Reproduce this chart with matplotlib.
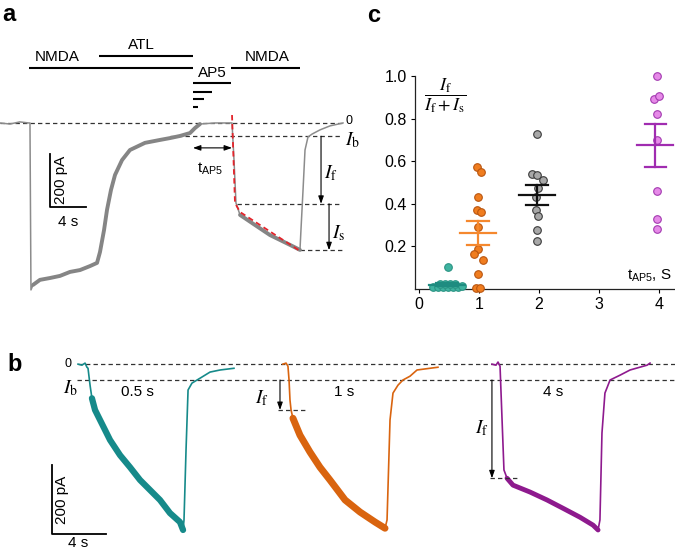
import matplotlib
matplotlib.use('Agg')
import matplotlib.pyplot as plt

plt.rcParams['font.family'] = ['Liberation Sans', 'DejaVu Sans']
plt.rcParams['mathtext.fontset'] = 'custom'
plt.rcParams['mathtext.rm'] = 'Liberation Sans'
plt.rcParams['mathtext.it'] = 'Liberation Sans:italic'

# ---- panel a: whole-cell trace (time in s, current in pA) ----
a_t = [0, 1.1, 2.2, 3.2, 3.33, 3.44, 3.67, 4.44, 5.56, 6.67, 7.78, 8.89, 10.0, 10.78, 11.11,
       11.56, 11.89, 12.33, 12.78, 13.56, 14.44, 16.11, 17.78, 18.89, 20.0, 21.11, 21.67, 22.22,
       23.89, 25.78, 26.0, 26.22, 26.67, 28.33, 30.0, 32.22, 33.33, 33.44, 33.67, 33.89, 34.22,
       34.67, 35.56, 36.67, 38.11]
a_i = [0, -4, 4, 0, 0, -630, -611, -592, -585, -577, -562, -555, -540, -528, -487,
       -404, -328, -253, -196, -140, -102, -75, -64, -57, -49, -38, -19, -4,
       0, 0, -140, -302, -347, -385, -423, -460, -479, -404, -253, -102, -53,
       -42, -26, -11, 0]
a_fit_t = [25.78, 26.11, 26.67, 28.89, 31.11, 33.33]
a_fit_i = [30, -302, -336, -385, -434, -483]
a_levels = [0, -50, -305, -480]          # 0, Ib, If, Is
a_level_start = [0, 18.9, 26.3, 33.3]

# ---- panel b: three traces ----
b_teal_t = [5.78, 6.07, 6.30, 6.44, 6.52, 6.67, 6.81, 7.04, 7.41, 8.15, 8.89, 9.63, 10.37,
            11.11, 11.85, 12.59, 13.33, 13.56, 13.63, 13.78, 13.93, 14.22, 14.81, 15.56,
            16.30, 17.33]
b_teal_i = [0, -3, 3, -9, -12, -61, -99, -133, -162, -220, -264, -299, -336,
            -365, -394, -432, -458, -481, -452, -249, -75, -55, -41, -23, -17, -12]
b_orange_t = [20.96, 21.19, 21.33, 21.41, 21.48, 21.56, 21.70, 22.22, 22.96, 23.70, 24.44,
              25.56, 26.67, 27.78, 28.52, 28.67, 28.89, 29.11, 29.48, 29.85, 30.37, 30.89,
              31.85, 32.44]
b_orange_i = [0, 3, -6, -46, -104, -133, -157, -206, -255, -299, -336,
              -394, -429, -458, -476, -452, -162, -84, -61, -46, -35, -17, -12, -9]
b_purple_t = [36.44, 36.74, 36.89, 37.04, 37.19, 37.33, 37.56, 38.0, 39.26, 40.52, 41.70,
              42.96, 43.93, 44.30, 44.44, 44.59, 44.81, 45.19, 45.93, 46.67, 47.93, 48.15]
b_purple_i = [0, -3, 6, -6, -162, -307, -331, -351, -371, -394, -418,
              -444, -467, -481, -452, -200, -84, -46, -32, -17, -3, 3]
b_ib = -46
b_if_orange = -133
b_if_purple = -331

# ---- panel c: If/(If+Is) vs tAP5 ----
teal_x = [0.24, 0.32, 0.40, 0.49, 0.57, 0.65, 0.35, 0.43, 0.52, 0.60, 0.71, 0.49]
teal_y = [0.01, 0.01, 0.01, 0.01, 0.01, 0.01, 0.022, 0.025, 0.025, 0.022, 0.015, 0.105]
orange_x = [0.96, 1.04, 0.99, 0.96, 1.03, 0.99, 0.99, 0.92, 1.06, 0.99, 0.95, 1.02]
orange_y = [0.574, 0.55, 0.43, 0.373, 0.362, 0.29, 0.19, 0.163, 0.135, 0.072, 0.005, 0.005]
gray_x = [1.97, 1.88, 1.97, 2.06, 1.99, 1.95, 1.95, 1.99, 1.97, 1.97]
gray_y = [0.73, 0.542, 0.534, 0.51, 0.472, 0.433, 0.373, 0.342, 0.276, 0.226]
purple_x = [3.96, 3.92, 4.0, 3.96, 3.96, 3.96, 3.96, 3.96]
purple_y = [1.0, 0.892, 0.908, 0.82, 0.70, 0.46, 0.33, 0.282]
group_center = [0.47, 0.98, 1.97, 3.94]
group_mean = [0.02, 0.263, 0.443, 0.675]
group_sem = [0.008, 0.058, 0.047, 0.1]

W, H = 675, 551
fig = plt.figure(figsize=(W / 100, H / 100), dpi=100)
dash = (0, (3.5, 2.5))
arrow = dict(arrowstyle='-|>,head_length=0.45,head_width=0.16', color='k', lw=0.8,
             shrinkA=0, shrinkB=0)
thick = dict(solid_joinstyle='round', solid_capstyle='round')

# ================= panel a =================
axa = fig.add_axes([0, 1 - 300 / H, 360 / W, 300 / H])
axa.set_xlim(0, 40)
axa.set_ylim(-668, 464)
axa.axis('off')

for lev, start in zip(a_levels, a_level_start):
    axa.plot([start, 38.0], [lev, lev], color='#333333', lw=0.9, ls=dash)
axa.plot(a_t, a_i, color='#8c8c8c', lw=1.1)
axa.plot(a_t[6:28], a_i[6:28], color='#858585', lw=2.8, **thick)
axa.plot(a_t[32:37], a_i[32:37], color='#858585', lw=2.8, **thick)
axa.plot(a_fit_t, a_fit_i, color='#e3242b', lw=1.3, ls=(0, (3, 2)))

axa.annotate('', xy=(35.67, a_levels[2]), xytext=(35.67, a_levels[1]), arrowprops=arrow)
axa.annotate('', xy=(36.56, a_levels[3]), xytext=(36.56, a_levels[2]), arrowprops=arrow)
axa.annotate('', xy=(21.44, -94), xytext=(25.78, -94),
             arrowprops=dict(arrow, arrowstyle='<|-|>,head_length=0.45,head_width=0.16'))

axa.text(38.4, 6, '0', fontsize=9, ha='left', va='center')
axa.text(38.3, -64, r'$I_\mathrm{b}$', math_fontfamily='stix', fontsize=14, ha='left', va='center')
axa.text(36.8, -190, r'$I_\mathrm{f}$', math_fontfamily='stix', fontsize=14, ha='center', va='center')
axa.text(37.6, -415, r'$I_\mathrm{s}$', math_fontfamily='stix', fontsize=14, ha='center', va='center')
axa.text(23.3, -172, r't$_{\mathregular{AP5}}$', fontsize=11, ha='center', va='center')

# scale bar
axa.plot([5.56, 5.56, 9.56], [-117, -317, -317], color='k', lw=1.3)
axa.text(6.8, -215, '200 pA', rotation=90, fontsize=11, ha='center', va='center')
axa.text(7.6, -372, '4 s', fontsize=11, ha='center', va='center')

# drug application bars
bars = [(3.22, 21.44, 208), (11.0, 21.44, 253), (21.44, 25.67, 151), (25.67, 33.33, 208),
        (21.44, 23.56, 117), (21.44, 22.67, 91), (21.44, 22.0, 60)]
for x0, x1, y in bars:
    axa.plot([x0, x1], [y, y], color='k', lw=1.5, solid_capstyle='butt')
axa.text(6.39, 249, 'NMDA', fontsize=11, ha='center', va='center')
axa.text(15.74, 294, 'ATL', fontsize=11, ha='center', va='center')
axa.text(23.56, 189, 'AP5', fontsize=11, ha='center', va='center')
axa.text(29.72, 249, 'NMDA', fontsize=11, ha='center', va='center')

# ================= panel b =================
axb = fig.add_axes([0, 0, 1, 211 / H])
axb.set_xlim(0, 50)
axb.set_ylim(-542, 70)
axb.axis('off')

axb.plot([5.78, 50], [0, 0], color='#333333', lw=0.9, ls=dash)
axb.plot([5.70, 50], [b_ib, b_ib], color='#333333', lw=0.9, ls=dash)

teal, orange, purple = '#168a8a', '#d9640f', '#8e1a8e'
axb.plot(b_teal_t, b_teal_i, color=teal, lw=1.2)
axb.plot(b_teal_t[6:18], b_teal_i[6:18], color=teal, lw=4.5, **thick)
axb.plot(b_orange_t, b_orange_i, color=orange, lw=1.2)
axb.plot(b_orange_t[6:15], b_orange_i[6:15], color=orange, lw=5.0, **thick)
axb.plot(b_purple_t, b_purple_i, color=purple, lw=1.2)
axb.plot(b_purple_t[6:14], b_purple_i[6:14], color=purple, lw=3.5, **thick)

axb.annotate('', xy=(20.74, b_if_orange), xytext=(20.74, b_ib), arrowprops=arrow)
axb.plot([20.59, 22.59], [b_if_orange, b_if_orange], color='#333333', lw=0.9, ls=dash)
axb.annotate('', xy=(36.44, b_if_purple), xytext=(36.44, b_ib), arrowprops=arrow)
axb.plot([36.3, 38.3], [b_if_purple, b_if_purple], color='#333333', lw=0.9, ls=dash)

axb.text(5.04, 0, '0', fontsize=9, ha='center', va='center')
axb.text(5.2, -70, r'$I_\mathrm{b}$', math_fontfamily='stix', fontsize=14, ha='center', va='center')
axb.text(19.4, -99, r'$I_\mathrm{f}$', math_fontfamily='stix', fontsize=14, ha='center', va='center')
axb.text(35.7, -186, r'$I_\mathrm{f}$', math_fontfamily='stix', fontsize=14, ha='center', va='center')
axb.text(10.2, -81, '0.5 s', fontsize=11, ha='center', va='center')
axb.text(25.5, -81, '1 s', fontsize=11, ha='center', va='center')
axb.text(41.0, -81, '4 s', fontsize=11, ha='center', va='center')

axb.plot([3.85, 3.85, 7.85], [-293, -493, -493], color='k', lw=1.3)
axb.text(4.6, -394, '200 pA', rotation=90, fontsize=11, ha='center', va='center')
axb.text(5.8, -538, '4 s', fontsize=11, ha='center', va='bottom')

# ================= panel c =================
axc = fig.add_axes([415 / W, 1 - 289 / H, 260 / W, 213 / H])
axc.set_xlim(-4 / 60, 256 / 60)
axc.set_ylim(0, 1.0)
for s in ['top', 'right']:
    axc.spines[s].set_visible(False)
for s in ['left', 'bottom']:
    axc.spines[s].set_linewidth(0.9)
    axc.spines[s].set_color('#222222')
axc.set_yticks([0.2, 0.4, 0.6, 0.8, 1.0])
axc.set_yticklabels(['0.2', '0.4', '0.6', '0.8', '1.0'])
axc.set_xticks([0, 1, 2, 3, 4])
axc.tick_params(direction='out', length=3, width=0.8, labelsize=11.5, pad=3)

pts = [(teal_x, teal_y, '#3fb3a0', '#2a9484'),
       (orange_x, orange_y, '#f07d1f', '#b9550f'),
       (gray_x, gray_y, '#a8a8a8', '#3a3a3a'),
       (purple_x, purple_y, '#e68ae8', '#a33ab0')]
for xs, ys, fc, ec in pts:
    axc.scatter(xs, ys, s=30, facecolor=fc, edgecolor=ec, linewidth=0.8, zorder=3, clip_on=False)

bar_colors = ['#1e8c80', '#f5882e', '#111111', '#a02cb0']
for cx, m, e, col in zip(group_center, group_mean, group_sem, bar_colors):
    axc.plot([cx - 0.3, cx + 0.3], [m, m], color=col, lw=1.6, zorder=4, clip_on=False)
    axc.plot([cx - 0.18, cx + 0.18], [m + e, m + e], color=col, lw=1.6, zorder=4, clip_on=False)
    axc.plot([cx - 0.18, cx + 0.18], [m - e, m - e], color=col, lw=1.6, zorder=4, clip_on=False)
    axc.plot([cx, cx], [m - e, m + e], color=col, lw=1.6, zorder=4, clip_on=False)

axc.text(0.43, 0.905, r'$\dfrac{I_\mathrm{f}}{I_\mathrm{f}+I_\mathrm{s}}$', math_fontfamily='stix',
         fontsize=13, ha='center', va='center')
axc.text(4.22, 0.06, r't$_{\mathregular{AP5}}$, S', fontsize=11, ha='right', va='center')

# panel letters
for lab, x, y in [('a', 9, 3), ('b', 15, 353), ('c', 374, 4)]:
    fig.text(x / W, 1 - y / H, lab, fontsize=17, fontweight='bold', ha='center', va='top')

fig.savefig('out.png', dpi=100)
